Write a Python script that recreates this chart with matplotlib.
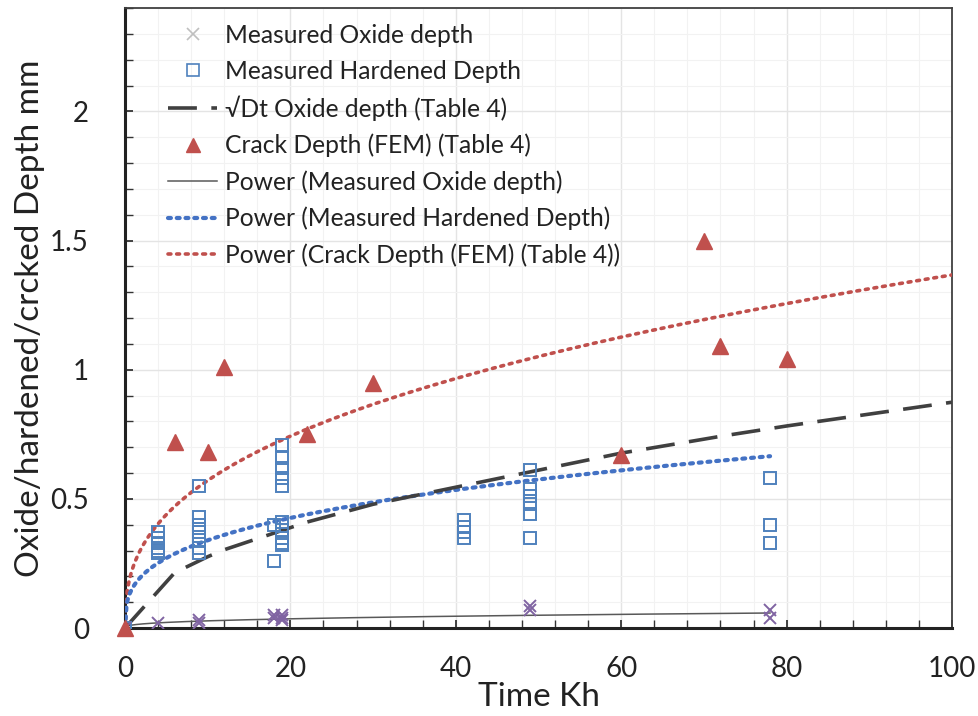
import numpy as np
import matplotlib
matplotlib.use("Agg")
import matplotlib.pyplot as plt
from matplotlib.lines import Line2D
from matplotlib.ticker import MultipleLocator

plt.rcParams["font.family"] = ["Lato", "DejaVu Sans"]

# Measured oxide depth (mm) vs time (Kh)
oxide_t = [0, 4, 9, 9, 18, 18, 19, 19, 19, 49, 49, 78, 78]
oxide_d = [0, 0.02, 0.02, 0.03, 0.04, 0.05, 0.03, 0.04, 0.05, 0.07, 0.085, 0.04, 0.07]

# Measured hardened depth (mm)
hard_t = [0, 4, 4, 4, 4, 4, 4, 9, 9, 9, 9, 9, 9, 9,
          18, 18, 19, 19, 19, 19, 19, 19, 19, 19, 19, 19,
          41, 41, 41, 41, 49, 49, 49, 49, 49, 49, 78, 78, 78]
hard_d = [0, 0.37, 0.35, 0.33, 0.31, 0.30, 0.29, 0.55, 0.43, 0.40, 0.37, 0.34, 0.31, 0.29,
          0.26, 0.40, 0.71, 0.66, 0.62, 0.58, 0.55, 0.41, 0.38, 0.35, 0.33, 0.32,
          0.42, 0.39, 0.37, 0.35, 0.61, 0.54, 0.51, 0.48, 0.44, 0.35, 0.58, 0.40, 0.33]

# sqrt(Dt) oxide depth (Table 4)
sqrt_t = [0, 6, 10, 12, 22, 30, 60, 70, 72, 80, 100]
sqrt_d = [0, 0.214, 0.276, 0.303, 0.41, 0.479, 0.677, 0.731, 0.742, 0.782, 0.874]

# Crack depth (FEM) (Table 4)
crack_t = [6, 10, 12, 22, 30, 60, 70, 72, 80]
crack_d = [0.72, 0.68, 1.01, 0.75, 0.95, 0.67, 1.5, 1.09, 1.04]

# Power trendlines y = a * t^b (coefficients) and their range
oxide_fit = (0.0121, 0.36, 78)
hard_fit = (0.160, 0.327, 78)
crack_fit = (0.2386, 0.379, 100)

fig = plt.figure(figsize=(9.79, 7.16), dpi=100)
ax = fig.add_axes([0.1277, 0.1229, 0.8447, 0.8659])

ax.set_xlim(0, 100)
ax.set_ylim(0, 2.4)
ax.xaxis.set_major_locator(MultipleLocator(20))
ax.xaxis.set_minor_locator(MultipleLocator(4))
ax.yaxis.set_major_locator(MultipleLocator(0.5))
ax.yaxis.set_minor_locator(MultipleLocator(0.1))
ax.grid(which="major", color="#e4e4e4", lw=1.0)
ax.grid(which="minor", color="#f2f2f2", lw=0.8)
ax.set_axisbelow(True)
ax.yaxis.set_major_formatter(matplotlib.ticker.FuncFormatter(lambda v, p: f"{v:g}"))

for s in ax.spines.values():
    s.set_color("#404040")
    s.set_linewidth(1.3)
ax.spines["left"].set_linewidth(2.2)
ax.spines["bottom"].set_linewidth(2.2)
ax.spines["left"].set_color("#222222")
ax.spines["bottom"].set_color("#222222")

ax.tick_params(which="both", direction="in", color="#333333", labelsize=20,
               labelcolor="#222222", top=False, right=False)
ax.tick_params(which="major", length=6, width=1.3)
ax.tick_params(which="minor", length=6, width=1.0)
ax.tick_params(axis="x", pad=20)
ax.tick_params(axis="y", pad=26)

def power_curve(fit):
    a, b, tmax = fit
    t = np.linspace(0, tmax, 400)
    return t, a * t ** b

t, y = power_curve(crack_fit)
ax.plot(t, y, color="#C0504D", lw=2.6, linestyle=(0, (0.8, 1.6)), dash_capstyle="round", zorder=3)
t, y = power_curve(hard_fit)
ax.plot(t, y, color="#4472C4", lw=3.0, linestyle=(0, (0.7, 1.4)), dash_capstyle="round", zorder=3)
t, y = power_curve(oxide_fit)
ax.plot(t, y, color="#595959", lw=1.1, zorder=3)

ax.plot(sqrt_t, sqrt_d, color="#404040", lw=2.6, dashes=(8, 4), zorder=3)

ax.plot(hard_t, hard_d, ls="none", marker="s", markersize=9, markerfacecolor="none",
        markeredgecolor="#4F81BD", markeredgewidth=1.4, zorder=4)
ax.plot(oxide_t, oxide_d, ls="none", marker="x", markersize=9,
        markeredgecolor="#8064A2", markeredgewidth=1.4, zorder=5)
ax.plot(crack_t, crack_d, ls="none", marker="^", markersize=11, color="#C0504D", zorder=5)
ax.plot([0], [0], ls="none", marker="^", markersize=11, color="#C0504D", zorder=6, clip_on=False)

handles = [
    Line2D([], [], ls="none", marker="x", markersize=9, markeredgecolor="#bfbfbf", markeredgewidth=1.2),
    Line2D([], [], ls="none", marker="s", markersize=9, markerfacecolor="none",
           markeredgecolor="#4F81BD", markeredgewidth=1.2),
    Line2D([], [], color="#404040", lw=2.6, dashes=(8, 4)),
    Line2D([], [], ls="none", marker="^", markersize=10, color="#C0504D"),
    Line2D([], [], color="#595959", lw=1.1),
    Line2D([], [], color="#4472C4", lw=3.0, linestyle=(0, (0.7, 1.4)), dash_capstyle="round"),
    Line2D([], [], color="#C0504D", lw=2.6, linestyle=(0, (0.8, 1.6)), dash_capstyle="round"),
]
labels = ["Measured Oxide depth", "Measured Hardened Depth", "\u221aDt Oxide depth (Table 4)",
          "Crack Depth (FEM) (Table 4)", "Power (Measured Oxide depth)",
          "Power (Measured Hardened Depth)", "Power (Crack Depth (FEM) (Table 4))"]
ax.legend(handles, labels, loc="upper left", bbox_to_anchor=(0.033, 1.0), frameon=False,
          fontsize=17.7, handlelength=2.0, handletextpad=0.3, labelspacing=0.52,
          borderaxespad=0.25, labelcolor="#222222")

ax.set_xlabel("Time Kh", fontsize=24, color="#222222", labelpad=0)
ax.set_ylabel("Oxide/hardened/crcked Depth mm", fontsize=24, color="#222222", labelpad=4)

fig.savefig("out.png", dpi=100)
